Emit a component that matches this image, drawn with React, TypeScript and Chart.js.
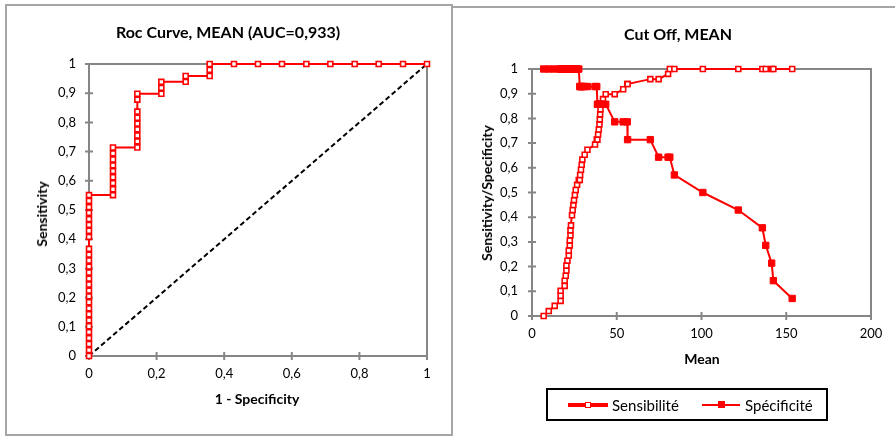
import React, { useEffect, useRef } from "react";
import { Chart, registerables } from "chart.js";

Chart.register(...registerables);

// ---------- ROC curve (left panel) ----------
const rocFpr = [
  0, 0, 0, 0, 0, 0, 0, 0, 0, 0, 0, 0, 0, 0, 0, 0, 0, 0, 0, 0, 0, 0, 0, 0, 0, 0, 0,
  0.071, 0.071, 0.071, 0.071, 0.071, 0.071, 0.071, 0.071, 0.071,
  0.143, 0.143, 0.143, 0.143, 0.143, 0.143, 0.143, 0.143, 0.143,
  0.214, 0.214, 0.214,
  0.286, 0.286,
  0.357, 0.357, 0.357,
  0.429, 0.5, 0.571, 0.643, 0.714, 0.786, 0.857, 0.929, 1,
];
const rocTpr = [
  0, 0.02, 0.041, 0.061, 0.082, 0.102, 0.122, 0.143, 0.163, 0.184, 0.204, 0.224, 0.245, 0.265,
  0.286, 0.306, 0.327, 0.347, 0.367, 0.408, 0.429, 0.449, 0.469, 0.49, 0.51, 0.531, 0.551,
  0.551, 0.571, 0.592, 0.612, 0.633, 0.653, 0.673, 0.694, 0.714,
  0.714, 0.735, 0.755, 0.776, 0.796, 0.816, 0.837, 0.878, 0.898,
  0.898, 0.918, 0.939,
  0.939, 0.959,
  0.959, 0.98, 1,
  1, 1, 1, 1, 1, 1, 1, 1, 1,
];
const diagonalX = [0, 1];
const diagonalY = [0, 1];

// ---------- Cut-off chart (right panel) ----------
const cutoffMean = [
  6.9, 9.9, 13.4, 16.9, 16.9, 16.9, 19.3, 19.3, 19.9, 20.3, 20.3, 20.9, 21.7, 21.7, 22.3, 22.3,
  22.7, 22.7, 23.0, 23.6, 24.0, 24.4, 24.8, 25.3, 25.8, 26.6, 27.6,
  28.2, 28.4, 28.9, 29.3, 29.7, 31.1, 32.7, 37.2, 38.2,
  38.6, 39.0, 39.4, 39.8, 40.0, 40.2, 40.4, 41.9, 43.5,
  48.8, 53.8, 56.2,
  56.4, 69.8,
  74.7, 80.3, 81.3,
  84.0, 100.8, 121.7, 135.9, 137.9, 141.4, 142.4, 153.5,
];
const sensibilite = [
  0, 0.02, 0.041, 0.061, 0.082, 0.102, 0.122, 0.143, 0.163, 0.184, 0.204, 0.224, 0.245, 0.265,
  0.286, 0.306, 0.327, 0.347, 0.367, 0.408, 0.429, 0.449, 0.469, 0.49, 0.51, 0.531, 0.551,
  0.551, 0.571, 0.592, 0.612, 0.633, 0.653, 0.673, 0.694, 0.714,
  0.714, 0.735, 0.755, 0.776, 0.796, 0.816, 0.837, 0.878, 0.898,
  0.898, 0.918, 0.939,
  0.939, 0.959,
  0.959, 0.98, 1,
  1, 1, 1, 1, 1, 1, 1, 1,
];
const specificite = [
  1, 1, 1, 1, 1, 1, 1, 1, 1, 1, 1, 1, 1, 1, 1, 1, 1, 1, 1, 1, 1, 1, 1, 1, 1, 1, 1,
  0.929, 0.929, 0.929, 0.929, 0.929, 0.929, 0.929, 0.929, 0.929,
  0.857, 0.857, 0.857, 0.857, 0.857, 0.857, 0.857, 0.857, 0.857,
  0.786, 0.786, 0.786,
  0.714, 0.714,
  0.643, 0.643, 0.643,
  0.571, 0.5, 0.429, 0.357, 0.286, 0.214, 0.143, 0.071,
];

const rocXTicks = [0, 0.2, 0.4, 0.6, 0.8, 1];
const unitYTicks = [0, 0.1, 0.2, 0.3, 0.4, 0.5, 0.6, 0.7, 0.8, 0.9, 1];
const meanXTicks = [0, 50, 100, 150, 200];

const RED = "#ff0000";
const GREY = "#868686";
const FONT = "Lato";

const fmt = (v: number) => String(Math.round(v * 10) / 10).replace(".", ",");

function framePlugin(xTicks: number[], yTicks: number[]) {
  return {
    id: "frame",
    beforeDatasetsDraw(chart: any) {
      const { ctx, chartArea, scales } = chart;
      const { left, right, top, bottom } = chartArea;
      ctx.save();
      ctx.strokeStyle = GREY;
      ctx.lineWidth = 2;
      ctx.strokeRect(left, top, right - left, bottom - top);
      ctx.beginPath();
      for (const v of xTicks) {
        const px = scales.x.getPixelForValue(v);
        ctx.moveTo(px, bottom - 4);
        ctx.lineTo(px, bottom + 4);
      }
      for (const v of yTicks) {
        const py = scales.y.getPixelForValue(v);
        ctx.moveTo(left - 4, py);
        ctx.lineTo(left + 4, py);
      }
      ctx.stroke();
      ctx.restore();
    },
  };
}

function axisOpts(min: number, max: number, step: number, pad: number, size: { w?: number; h?: number }, isX: boolean) {
  return {
    type: "linear",
    min,
    max,
    ticks: {
      stepSize: step,
      callback: (v: any) => fmt(Number(v)),
      font: { family: FONT, size: 13 },
      color: "#000",
      padding: pad,
      maxRotation: 0,
      autoSkip: false,
    },
    grid: { display: false, drawTicks: false },
    border: { display: false },
    afterFit: (s: any) => {
      if (isX && size.h !== undefined) s.height = size.h;
      if (!isX && size.w !== undefined) s.width = size.w;
    },
  };
}

function RocChart() {
  const ref = useRef<HTMLCanvasElement | null>(null);
  useEffect(() => {
    if (!ref.current) return;
    const chart = new Chart(ref.current, {
      type: "scatter",
      data: {
        datasets: [
          {
            label: "ROC",
            data: rocFpr.map((x, i) => ({ x, y: rocTpr[i] })),
            showLine: true,
            borderColor: RED,
            borderWidth: 2,
            pointStyle: "rect",
            pointRadius: 3.5,
            pointBorderWidth: 1.6,
            pointBackgroundColor: "#fff",
            pointBorderColor: RED,
            order: 1,
            clip: false,
          },
          {
            label: "diag",
            data: diagonalX.map((x, i) => ({ x, y: diagonalY[i] })),
            showLine: true,
            borderColor: "#000",
            borderWidth: 2,
            borderDash: [5, 3],
            pointRadius: 0,
            order: 2,
          },
        ],
      } as any,
      options: {
        animation: false,
        responsive: false,
        devicePixelRatio: 1,
        events: [],
        layout: { padding: { left: 0, right: 23, top: 64, bottom: 50 } },
        plugins: { legend: { display: false }, tooltip: { enabled: false }, title: { display: false } },
        scales: {
          x: axisOpts(0, 1, 0.2, 10, { h: 30 }, true),
          y: axisOpts(0, 1, 0.1, 13, { w: 89 }, false),
        } as any,
      },
      plugins: [framePlugin(rocXTicks, unitYTicks)],
    });
    return () => chart.destroy();
  }, []);
  return <canvas ref={ref} width={450} height={436} style={{ position: "absolute", left: 0, top: 0 }} />;
}

function CutOffChart() {
  const ref = useRef<HTMLCanvasElement | null>(null);
  useEffect(() => {
    if (!ref.current) return;
    const chart = new Chart(ref.current, {
      type: "scatter",
      data: {
        datasets: [
          {
            label: "Spécificité",
            data: cutoffMean.map((x, i) => ({ x, y: specificite[i] })),
            showLine: true,
            borderColor: RED,
            borderWidth: 2,
            pointStyle: "rect",
            pointRadius: 4.5,
            pointBorderWidth: 1,
            pointBackgroundColor: RED,
            pointBorderColor: RED,
            order: 1,
            clip: false,
          },
          {
            label: "Sensibilité",
            data: cutoffMean.map((x, i) => ({ x, y: sensibilite[i] })),
            showLine: true,
            borderColor: RED,
            borderWidth: 2,
            pointStyle: "rect",
            pointRadius: 3.5,
            pointBorderWidth: 1.6,
            pointBackgroundColor: "#fff",
            pointBorderColor: RED,
            order: 2,
            clip: false,
          },
        ],
      } as any,
      options: {
        animation: false,
        responsive: false,
        devicePixelRatio: 1,
        events: [],
        layout: { padding: { left: 0, right: 24, top: 69, bottom: 90 } },
        plugins: { legend: { display: false }, tooltip: { enabled: false }, title: { display: false } },
        scales: {
          x: axisOpts(0, 200, 50, 10, { h: 30 }, true),
          y: axisOpts(0, 1, 0.1, 14, { w: 82 }, false),
        } as any,
      },
      plugins: [framePlugin(meanXTicks, unitYTicks)],
    });
    return () => chart.destroy();
  }, []);
  return <canvas ref={ref} width={445} height={436} style={{ position: "absolute", left: 450, top: 0 }} />;
}

const txt = (
  content: string,
  cx: number,
  cy: number,
  size: number,
  bold: boolean,
  vertical = false
) => (
  <div
    style={{
      position: "absolute",
      left: cx,
      top: cy,
      transform: `translate(-50%, -50%)${vertical ? " rotate(-90deg)" : ""}`,
      fontFamily: FONT,
      fontSize: size,
      fontWeight: bold ? 700 : 400,
      color: "#000",
      whiteSpace: "nowrap",
      lineHeight: 1,
    }}
  >
    {content}
  </div>
);

export default function App() {
  return (
    <div
      style={{
        position: "absolute",
        left: 0,
        top: 0,
        width: 895,
        height: 436,
        background: "#fff",
        overflow: "hidden",
      }}
    >
      {/* panel borders */}
      <div style={{ position: "absolute", left: 5, top: 4, width: 444, height: 428, border: "2px solid #a6a6a6" }} />
      <div style={{ position: "absolute", left: 451, top: 6, width: 460, height: 460, border: "2px solid #a6a6a6" }} />

      <RocChart />
      <CutOffChart />

      {txt("Roc Curve, MEAN (AUC=0,933)", 228, 32, 16, true)}
      {txt("Sensitivity", 42, 214, 14, true, true)}
      {txt("1 - Specificity", 257, 399, 14, true)}

      {txt("Cut Off, MEAN", 678, 34, 16, true)}
      {txt("Sensitivity/Specificity", 487, 193, 14, true, true)}
      {txt("Mean", 702, 359, 14, true)}

      {/* legend */}
      <div style={{ position: "absolute", left: 546, top: 388, width: 278, height: 29, border: "2px solid #000" }} />
      <div style={{ position: "absolute", left: 568, top: 403, width: 40, height: 4, background: RED }} />
      <div
        style={{
          position: "absolute",
          left: 585,
          top: 402,
          width: 4,
          height: 4,
          background: "#fff",
          border: `1.5px solid ${RED}`,
        }}
      />
      <div style={{ position: "absolute", left: 612, top: 405, transform: "translateY(-50%)", fontFamily: FONT, fontSize: 15, lineHeight: 1, color: "#000" }}>
        Sensibilité
      </div>
      <div style={{ position: "absolute", left: 702, top: 404, width: 38, height: 2, background: RED }} />
      <div style={{ position: "absolute", left: 718, top: 401, width: 7, height: 7, background: RED }} />
      <div style={{ position: "absolute", left: 745, top: 405, transform: "translateY(-50%)", fontFamily: FONT, fontSize: 15, lineHeight: 1, color: "#000" }}>
        Spécificité
      </div>
    </div>
  );
}
